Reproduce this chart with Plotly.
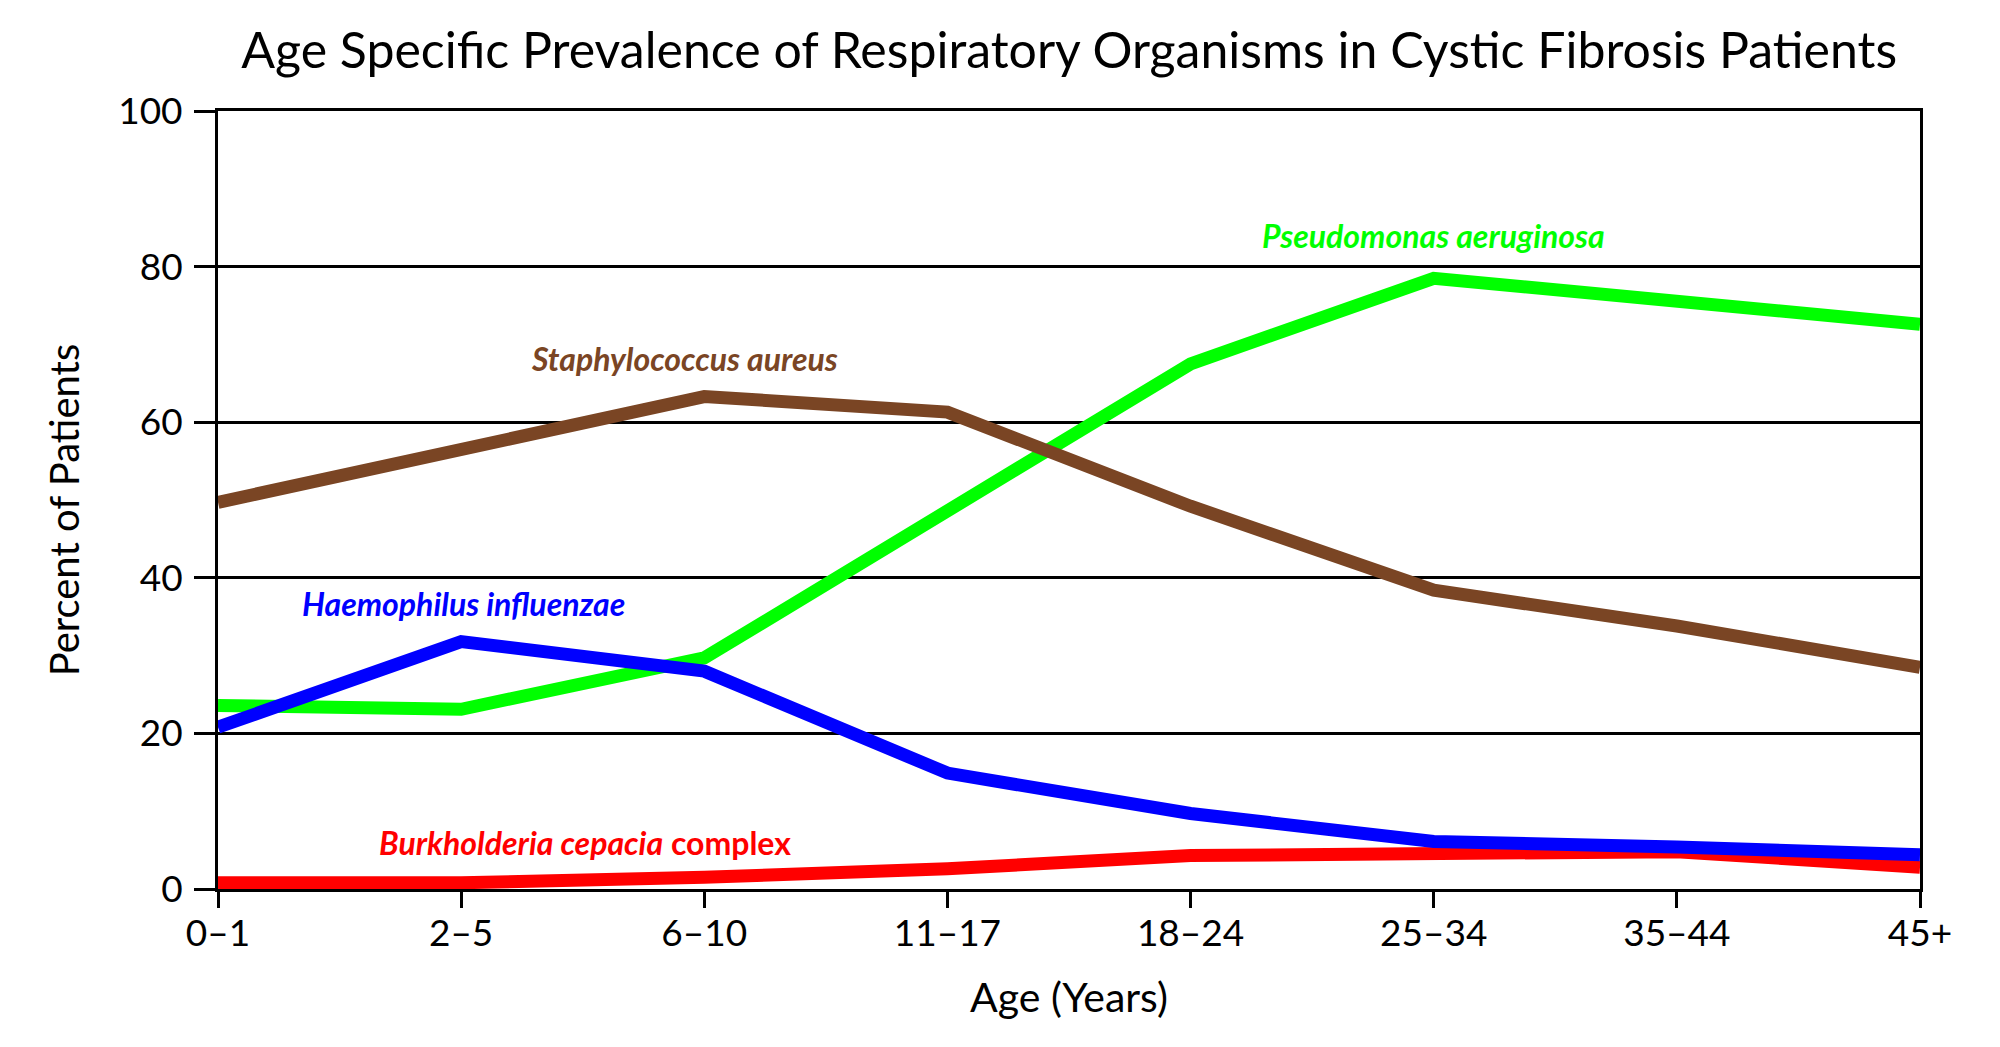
import plotly.graph_objects as go

ages = ["0\u20131", "2\u20135", "6\u201310", "11\u201317", "18\u201324", "25\u201334", "35\u201344", "45+"]
pseudomonas = [23.6, 23.1, 29.7, 48.4, 67.5, 78.5, 75.7, 72.6]
staph = [49.7, 56.7, 63.3, 61.3, 49.2, 38.4, 33.8, 28.5]
haemophilus = [20.8, 31.8, 28.0, 14.9, 9.7, 6.1, 5.4, 4.4]
burkholderia = [0.8, 0.8, 1.5, 2.6, 4.3, 4.4, 4.8, 2.8]
y_ticks = [0, 20, 40, 60, 80, 100]

FONT = "Lato"
LW = 13

fig = go.Figure()
fig.add_trace(go.Scatter(x=ages, y=burkholderia, mode="lines", line=dict(color="#FF0000", width=LW)))
fig.add_trace(go.Scatter(x=ages, y=pseudomonas, mode="lines", line=dict(color="#00FF00", width=LW)))
fig.add_trace(go.Scatter(x=ages, y=haemophilus, mode="lines", line=dict(color="#0000FF", width=LW)))
fig.add_trace(go.Scatter(x=ages, y=staph, mode="lines", line=dict(color="#7A4524", width=LW)))

ann_font = dict(family=FONT, size=32)
fig.add_annotation(x=5.0, y=84.0, text="<b><i>Pseudomonas aeruginosa</i></b>", showarrow=False,
                   font=dict(ann_font, color="#00FF00"))
fig.add_annotation(x=1.92, y=68.2, text="<b><i>Staphylococcus aureus</i></b>", showarrow=False,
                   font=dict(ann_font, color="#7A4524"))
fig.add_annotation(x=1.01, y=36.7, text="<b><i>Haemophilus influenzae</i></b>", showarrow=False,
                   font=dict(ann_font, color="#0000FF"))
fig.add_annotation(x=1.51, y=6.0, text="<b><i>Burkholderia cepacia</i> complex</b>", showarrow=False,
                   font=dict(ann_font, color="#FF0000"))
# y-axis title
fig.add_annotation(xref="paper", yref="paper", x=-0.0905, y=0.488, text="Percent of Patients",
                   textangle=-90, showarrow=False, xanchor="center", yanchor="middle",
                   font=dict(family=FONT, size=40, color="black"))

fig.update_layout(
    width=2000, height=1047,
    margin=dict(l=210, r=88, t=103, b=166),
    paper_bgcolor="white", plot_bgcolor="white",
    showlegend=False,
    font=dict(family=FONT, color="black", size=37),
    title=dict(text="Age Specific Prevalence of Respiratory Organisms in Cystic Fibrosis Patients",
               x=0.5306, xanchor="center", y=0.959, yanchor="middle",
               font=dict(family=FONT, size=50, color="black")),
)
fig.update_xaxes(
    type="category", range=[0, 7],
    showline=True, linecolor="black", linewidth=3, mirror=True,
    ticks="outside", ticklen=16, tickwidth=3, tickcolor="black",
    showgrid=False, zeroline=False,
    tickfont=dict(family=FONT, size=37), ticklabelstandoff=-6,
    title=dict(text="Age (Years)", font=dict(family=FONT, size=41), standoff=30),
)
fig.update_yaxes(
    range=[0, 100], tickvals=y_ticks,
    showline=True, linecolor="black", linewidth=3, mirror=True,
    ticks="outside", ticklen=21, tickwidth=3, tickcolor="black",
    showgrid=True, gridcolor="black", gridwidth=2.5, zeroline=False,
    tickfont=dict(family=FONT, size=37), ticklabelstandoff=4,
)

fig.write_html("out.html")
